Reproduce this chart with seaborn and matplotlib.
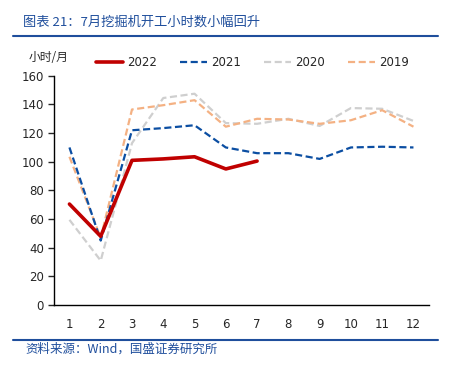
import numpy as np
import pandas as pd
import matplotlib
matplotlib.use("Agg")
import matplotlib.pyplot as plt
import seaborn as sns
from matplotlib.lines import Line2D

sns.set_style("white")
plt.rcParams['font.family'] = ['DejaVu Sans', 'Noto Sans CJK SC']

# ---------------- data ----------------
months = list(range(1, 13))
y2022 = [70.5, 48, 101, 102, 103.5, 95, 100.5]
y2021 = [110, 45, 122, 123.5, 125.5, 110, 106, 106, 102, 110, 110.5, 110]
y2020 = [59.5, 31, 113, 144.5, 147.5, 127, 126.5, 130, 125, 137.5, 137, 128.5]
y2019 = [103.5, 47, 136.5, 139.5, 143, 124.5, 130, 129.5, 126.5, 129, 136, 124.5]

series = ["2022", "2021", "2020", "2019"]
values = [y2022, y2021, y2020, y2019]
colors = ["#C00000", "#0B4EA2", "#CFCFCF", "#F4B183"]

title = "图表 21：7月挖掘机开工小时数小幅回升"
source = "资料来源：Wind，国盛证券研究所"
blue = "#1F4E9C"
dash = (0, (3.2, 1.6))

fig = plt.figure(figsize=(4.56, 3.68), dpi=100)
ax = fig.add_axes([0.118, 0.171, 0.823, 0.623])

# draw order: light lines first
order = [2, 3, 1, 0]
for i in order:
    df = pd.DataFrame({"month": months[:len(values[i])], "v": values[i]})
    if series[i] == "2022":
        sns.lineplot(data=df, x="month", y="v", ax=ax, color=colors[i], lw=2.6, zorder=5)
    else:
        sns.lineplot(data=df, x="month", y="v", ax=ax, color=colors[i], lw=1.6,
                     linestyle=dash, zorder=3)

ax.set_xlim(0.5, 12.5)
ax.set_ylim(0, 160)
ax.set_yticks(np.arange(0, 161, 20))
ax.set_xticks(months)
ax.set_xlabel("")
ax.set_ylabel("")
for s in ["top", "right"]:
    ax.spines[s].set_visible(False)
for s in ["left", "bottom"]:
    ax.spines[s].set_color("black")
    ax.spines[s].set_linewidth(1.0)
ax.tick_params(axis="y", direction="out", length=4, width=1, labelsize=8.5, pad=3, left=True)
ax.tick_params(axis="x", length=0, labelsize=8.5, pad=9)

# legend
handles = []
for i in range(4):
    if series[i] == "2022":
        handles.append(Line2D([0], [0], color=colors[i], lw=2.6))
    else:
        handles.append(Line2D([0], [0], color=colors[i], lw=1.6, linestyle=dash))
fig.legend(handles, series, loc="center left", bbox_to_anchor=(0.21, 0.831), ncol=4,
           frameon=False, fontsize=8.5, handlelength=2.3, columnspacing=1.95,
           handletextpad=0.35, borderpad=0, borderaxespad=0)

fig.text(0.062, 0.845, "小时/月", fontsize=8.5, family=['Noto Sans CJK SC', 'DejaVu Sans'],
         va="center", ha="left")

# title and rules
fig.text(0.05, 0.94, title, fontsize=9.5, color=blue, style="italic",
         family=['Noto Sans CJK SC', 'DejaVu Sans'], va="center", ha="left")
fig.add_artist(Line2D([0.028, 0.96], [0.902, 0.902], color=blue, lw=1.5))
fig.add_artist(Line2D([0.028, 0.96], [0.076, 0.076], color=blue, lw=1.5))
fig.text(0.055, 0.05, source, fontsize=9, color=blue, style="italic",
         family=['Noto Sans CJK SC', 'DejaVu Sans'], va="center", ha="left")

fig.savefig("out.png", dpi=100)
